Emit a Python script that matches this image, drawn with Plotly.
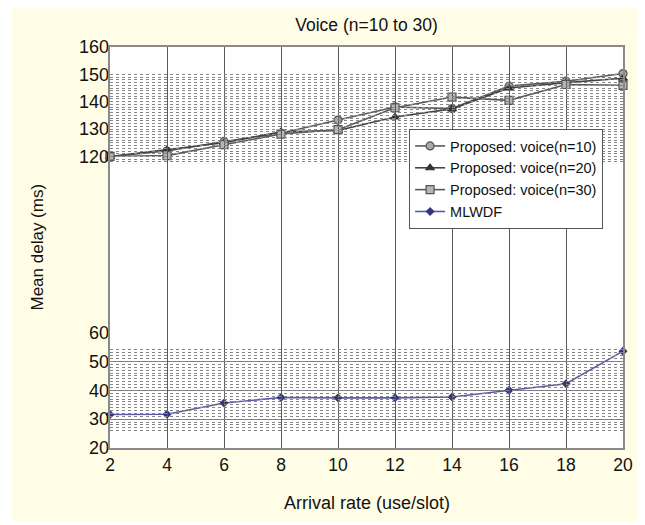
import plotly.graph_objects as go

# ---- data ----
arrival_rate = [2, 4, 6, 8, 10, 12, 14, 16, 18, 20]
voice_n10 = [120, 122.0, 125.5, 128.5, 133.3, 138.1, 137.5, 145.7, 147.5, 150.3]
voice_n20 = [120, 122.4, 125.0, 129.0, 129.5, 134.4, 137.4, 145.0, 147.0, 148.6]
voice_n30 = [120, 120.3, 124.3, 128.2, 129.8, 137.8, 141.7, 140.5, 146.3, 146.0]
mlwdf = [31.6, 31.7, 35.6, 37.5, 37.4, 37.4, 37.7, 40.0, 42.3, 53.6]

x_ticks = [2, 4, 6, 8, 10, 12, 14, 16, 18, 20]
top_ticks = [120, 130, 140, 150, 160]
bottom_ticks = [20, 30, 40, 50, 60]

FONT = "Liberation Sans, Arial, sans-serif"
TXT = "#111111"
CREAM = "#fffde6"

fig = go.Figure()

fig.add_trace(go.Scatter(
    x=arrival_rate, y=voice_n10, name="Proposed: voice(n=10)", mode="lines+markers",
    xaxis="x", yaxis="y", cliponaxis=False,
    line=dict(color="#5a5a5a", width=1.6),
    marker=dict(symbol="circle", size=8, color="#a8a8a8", line=dict(color="#555555", width=1.2))))
fig.add_trace(go.Scatter(
    x=arrival_rate, y=voice_n20, name="Proposed: voice(n=20)", mode="lines+markers",
    xaxis="x", yaxis="y", cliponaxis=False,
    line=dict(color="#444444", width=1.6),
    marker=dict(symbol="triangle-up", size=8, color="#333333", line=dict(color="#333333", width=1))))
fig.add_trace(go.Scatter(
    x=arrival_rate, y=voice_n30, name="Proposed: voice(n=30)", mode="lines+markers",
    xaxis="x", yaxis="y", cliponaxis=False,
    line=dict(color="#5a5a5a", width=1.6),
    marker=dict(symbol="square", size=8, color="#b5b5b5", line=dict(color="#555555", width=1.2))))
fig.add_trace(go.Scatter(
    x=arrival_rate, y=mlwdf, name="MLWDF", mode="lines+markers",
    xaxis="x", yaxis="y2", cliponaxis=False,
    line=dict(color="#5a5aa6", width=1.6),
    marker=dict(symbol="diamond", size=7, color="#34347f")))

# empty helper traces so that frame / band subplots exist
for ax in ["y3", "y4", "y5"]:
    fig.add_trace(go.Scatter(x=[], y=[], xaxis="x", yaxis=ax, showlegend=False,
                             hoverinfo="skip", mode="lines"))

TOP_DOM = [0.727, 1.0]
BOT_DOM = [0.0, 0.2875]
YTICKFONT = dict(size=18, family=FONT, color=TXT)
XTICKFONT = dict(size=17.5, family=FONT, color=TXT)

fig.update_layout(
    width=637, height=517,
    margin=dict(l=102, r=22, t=39, b=77),
    paper_bgcolor=CREAM, plot_bgcolor="rgba(0,0,0,0)",
    font=dict(family=FONT, color=TXT, size=16),
    title=dict(text="Voice (n=10 to 30)", x=0.5, xref="paper", xanchor="center",
               y=1 - 17 / 517, yanchor="middle", font=dict(size=17.5, family=FONT, color=TXT)),
    xaxis=dict(domain=[0, 1], range=[2, 20], anchor="y3", tickvals=x_ticks,
               showgrid=True, gridcolor="#5a5a5a", gridwidth=1, zeroline=False,
               showline=True, mirror=True, linecolor="#8a8a8a", linewidth=2,
               ticks="", tickfont=XTICKFONT),
    yaxis=dict(domain=TOP_DOM, range=[120, 160], anchor="x", tickvals=top_ticks,
               showgrid=False, zeroline=False, showline=False, ticks="",
               tickfont=YTICKFONT),
    yaxis2=dict(domain=BOT_DOM, range=[20, 60], anchor="x", tickvals=bottom_ticks,
                showgrid=True, gridcolor="#7a7a7a", gridwidth=1, zeroline=False,
                showline=False, ticks="", tickfont=YTICKFONT),
    yaxis3=dict(domain=[0, 1], range=[0, 1], anchor="x", showgrid=False, zeroline=False,
                showticklabels=False, ticks="", showline=True, mirror=True,
                linecolor="#8a8a8a", linewidth=2),
    yaxis4=dict(domain=[0.0359, 0.2516], range=[25, 55], anchor="x", dtick=1,
                showgrid=True, gridcolor="#868686", gridwidth=1, griddash="dot",
                zeroline=False, showticklabels=False, ticks="", showline=False),
    yaxis5=dict(domain=[0.7099, 0.9352], range=[117.5, 150.5], anchor="x", tick0=118, dtick=1,
                showgrid=True, gridcolor="#868686", gridwidth=1, griddash="dot",
                zeroline=False, showticklabels=False, ticks="", showline=False),
    legend=dict(x=0.583, y=0.7955, xanchor="left", yanchor="top", xref="paper", yref="paper",
                bgcolor="white", bordercolor="#555555", borderwidth=1,
                font=dict(size=14.5, family=FONT, color=TXT), tracegroupgap=0,
                itemwidth=30),
    showlegend=True,
    annotations=[
        dict(text="Arrival rate (use/slot)", xref="paper", yref="paper", x=0.5, y=-0.1364,
             xanchor="center", yanchor="middle", showarrow=False,
             font=dict(size=18, family=FONT, color=TXT)),
        dict(text="Mean delay (ms)", xref="paper", yref="paper", x=-0.1423, y=0.5,
             xanchor="center", yanchor="middle", textangle=-90, showarrow=False,
             font=dict(size=17, family=FONT, color=TXT)),
    ],
    shapes=[
        # white plot area
        dict(type="rect", xref="paper", yref="paper", x0=0, x1=1, y0=0, y1=1,
             fillcolor="white", line=dict(width=0), layer="below"),
        # thin white page border strips (left / bottom)
        dict(type="rect", xref="paper", yref="paper", x0=-0.1988, x1=-0.191, y0=-0.193, y1=1.1,
             fillcolor="white", line=dict(width=0), layer="below"),
        dict(type="rect", xref="paper", yref="paper", x0=-0.1988, x1=1.05, y0=-0.193, y1=-0.1838,
             fillcolor="white", line=dict(width=0), layer="below"),
    ],
)

fig.write_html("out.html")
